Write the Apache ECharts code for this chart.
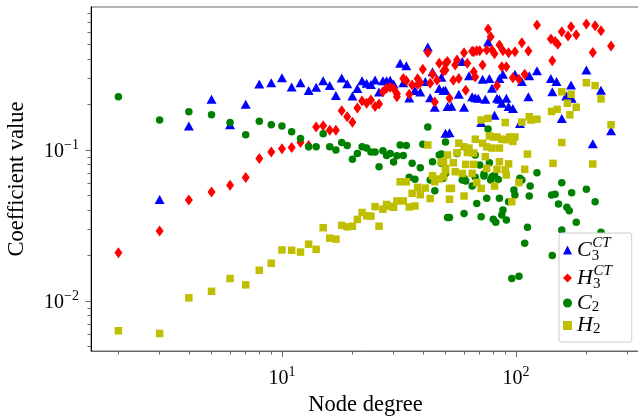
<!DOCTYPE html>
<html><head><meta charset="utf-8">
<script src="https://cdn.jsdelivr.net/npm/echarts@6/dist/echarts.min.js"></script>
<style>html,body{margin:0;padding:0;background:#fff}#c{width:638px;height:416px}</style>
</head><body><div id="c"></div>
<script>
// ---- data: [node degree, coefficient value] ----
const c3ct = [[3,0.047],[4,0.144],[5,0.217],[6,0.147],[7,0.201],[8,0.274],[9,0.279],[10,0.301],[11,0.261],[12,0.279],[13,0.248],[14,0.26],[15,0.288],[16,0.267],[17,0.23],[18,0.3],[19,0.275],[20,0.228],[21,0.255],[22,0.287],[23,0.277],[24,0.272],[25,0.291],[26,0.242],[27,0.287],[28,0.288],[29,0.29],[30,0.274],[32,0.375],[33,0.279],[34,0.362],[35,0.221],[37,0.248],[39,0.242],[41,0.284],[42,0.481],[43,0.222],[44,0.33],[45,0.192],[47,0.255],[48,0.303],[49,0.248],[50,0.129],[50,0.249],[51,0.194],[52,0.13],[53,0.195],[57,0.234],[59,0.385],[60,0.192],[63,0.31],[65,0.225],[67,0.222],[69,0.22],[71,0.152],[72,0.294],[74,0.217],[76,0.52],[77,0.298],[79,0.256],[81,0.17],[83,0.22],[85,0.217],[85,0.298],[87,0.204],[88,0.318],[91,0.22],[93,0.194],[97,0.188],[99,0.318],[104,0.15],[106,0.284],[113,0.225],[114,0.31],[123,0.335],[141,0.298],[143,0.243],[149,0.284],[157,0.162],[164,0.228],[172,0.269],[173,0.22],[200,0.339],[213,0.11],[231,0.249],[255,0.134]];
const h3ct = [[2,0.0209],[3,0.0291],[4,0.0467],[5,0.0527],[6,0.0584],[7,0.0659],[8,0.088],[9,0.097],[10,0.102],[11,0.104],[12,0.112],[13,0.107],[14,0.142],[15,0.145],[16,0.135],[17,0.135],[18,0.182],[19,0.166],[20,0.153],[21,0.19],[22,0.211],[23,0.204],[24,0.214],[25,0.194],[26,0.202],[27,0.243],[28,0.256],[29,0.26],[30,0.255],[31,0.236],[31,0.225],[33,0.298],[34,0.287],[35,0.234],[36,0.269],[38,0.296],[38,0.272],[39,0.279],[40,0.342],[42,0.443],[43,0.277],[44,0.318],[45,0.208],[46,0.29],[47,0.375],[49,0.334],[50,0.375],[50,0.339],[51,0.385],[52,0.22],[54,0.29],[55,0.365],[56,0.394],[57,0.298],[60,0.441],[61,0.249],[62,0.375],[65,0.45],[66,0.447],[66,0.33],[67,0.305],[68,0.455],[70,0.455],[72,0.365],[75,0.459],[76,0.632],[78,0.562],[79,0.46],[81,0.434],[83,0.266],[85,0.496],[87,0.356],[88,0.455],[91,0.356],[93,0.441],[97,0.301],[99,0.447],[103,0.294],[106,0.514],[109,0.318],[113,0.453],[123,0.673],[141,0.543],[143,0.39],[147,0.523],[151,0.501],[157,0.607],[167,0.569],[172,0.656],[181,0.58],[200,0.683],[213,0.443],[218,0.664],[231,0.617],[255,0.489]];
const c2 = [[2,0.225],[3,0.158],[4,0.179],[5,0.171],[6,0.152],[7,0.126],[8,0.155],[9,0.147],[10,0.144],[11,0.132],[12,0.119],[13,0.105],[14,0.105],[15,0.128],[16,0.105],[17,0.1],[18,0.112],[19,0.107],[20,0.0868],[21,0.095],[22,0.105],[23,0.103],[24,0.097],[25,0.097],[26,0.0776],[27,0.099],[28,0.092],[29,0.095],[30,0.0833],[31,0.0917],[32,0.108],[33,0.092],[34,0.107],[35,0.066],[36,0.0816],[37,0.064],[39,0.0764],[40,0.109],[42,0.142],[43,0.0633],[44,0.0837],[45,0.0537],[47,0.0927],[48,0.094],[48,0.0816],[49,0.065],[50,0.113],[50,0.07],[51,0.0357],[52,0.0357],[56,0.095],[59,0.0633],[60,0.065],[60,0.038],[61,0.0623],[65,0.0577],[67,0.0927],[67,0.066],[68,0.0443],[70,0.0796],[71,0.0361],[73,0.0693],[73,0.0673],[75,0.048],[76,0.138],[77,0.0824],[78,0.0633],[79,0.0666],[80,0.0348],[81,0.068],[82,0.0332],[84,0.0637],[85,0.048],[87,0.0371],[88,0.04],[91,0.0344],[93,0.0455],[96,0.0141],[98,0.0543],[99,0.0503],[103,0.0146],[104,0.065],[106,0.0633],[109,0.0241],[112,0.0308],[114,0.0496],[115,0.0577],[123,0.0708],[142,0.0503],[143,0.02],[147,0.051],[152,0.0439],[157,0.0295],[157,0.0608],[165,0.0418],[169,0.0396],[173,0.0521],[181,0.0332],[200,0.0549],[218,0.0455],[231,0.0285]];
const h2 = [[2,0.00636],[3,0.0061],[4,0.0105],[5,0.0116],[6,0.0141],[7,0.0128],[8,0.016],[9,0.0178],[10,0.0218],[11,0.0217],[12,0.0211],[13,0.0238],[14,0.022],[15,0.0306],[16,0.0261],[17,0.0257],[18,0.0317],[19,0.031],[20,0.0313],[21,0.0347],[22,0.0386],[23,0.0367],[24,0.0365],[25,0.0422],[26,0.0313],[27,0.0406],[28,0.0436],[29,0.0424],[30,0.0418],[31,0.046],[32,0.0616],[33,0.046],[34,0.0616],[35,0.042],[36,0.0517],[37,0.0426],[38,0.0566],[39,0.0506],[41,0.056],[42,0.108],[43,0.0477],[44,0.0676],[45,0.0616],[47,0.0643],[48,0.0833],[49,0.0665],[49,0.0837],[50,0.0738],[50,0.0756],[51,0.0927],[52,0.0557],[52,0.0472],[53,0.0557],[54,0.0824],[55,0.0718],[56,0.096],[57,0.111],[59,0.07],[60,0.0496],[60,0.105],[61,0.0803],[62,0.0963],[63,0.103],[65,0.07],[66,0.0955],[66,0.0803],[67,0.118],[68,0.061],[71,0.0557],[71,0.158],[72,0.111],[74,0.0903],[75,0.105],[75,0.0756],[76,0.162],[77,0.124],[79,0.103],[80,0.122],[81,0.0577],[83,0.122],[83,0.0745],[85,0.103],[85,0.0837],[87,0.118],[90,0.152],[90,0.0738],[91,0.117],[91,0.0683],[93,0.081],[94,0.122],[96,0.0455],[97,0.114],[99,0.122],[103,0.0608],[106,0.153],[109,0.0745],[112,0.094],[114,0.166],[116,0.158],[123,0.16],[142,0.18],[144,0.0816],[150,0.186],[157,0.243],[157,0.112],[166,0.204],[170,0.171],[172,0.234],[181,0.192],[200,0.279],[213,0.0808],[218,0.267],[231,0.218],[255,0.147]];

// ---- axes ----
const xRange = [1.527, 339];
const yRange = [0.00467, 0.885];
const xMajor = [10, 100];
const xMinor = [2,3,4,5,6,7,8,9,20,30,40,50,60,70,80,90,200,300];
const yMajor = [0.01, 0.1];
const yMinor = [0.005,0.006,0.007,0.008,0.009,0.02,0.03,0.04,0.05,0.06,0.07,0.08,0.09,0.2,0.3,0.4,0.5,0.6,0.7,0.8];
const seriesNames = ['C3CT','H3CT','C2','H2'];
const legendText = {C3CT:'{m|C}{lo|3}{hi|CT}', H3CT:'{m|H}{lo|3}{hi|CT}', C2:'{n|C}{lo2|2}', H2:'{n|H}{lo2|2}'};
const xTitle = 'Node degree';
const yTitle = 'Coefficient value';

const FONT = 'Liberation Serif';
function powLabel(v){
  const e = Math.round(Math.log10(v));
  return '{b|10}{s|' + (e < 0 ? '\u2212' + (-e) : String(e)) + '}';
}
const tickRich = {
  b:{fontFamily:FONT,fontSize:20,color:'#000',lineHeight:24,verticalAlign:'bottom'},
  s:{fontFamily:FONT,fontSize:14,color:'#000',lineHeight:14,verticalAlign:'top'}
};
const chart = echarts.init(document.getElementById('c'), null, {renderer:'canvas'});
const base = {type:'log', logBase:10, splitLine:{show:false}};
chart.setOption({
  animation:false,
  backgroundColor:'#fff',
  grid:{left:91, top:7, right:-2, bottom:65, show:true, borderColor:'#666', borderWidth:1,
        backgroundColor:'transparent', containLabel:false, outerBoundsMode:'none'},
  xAxis:[
    Object.assign({}, base, {min:xRange[0], max:xRange[1], position:'bottom',
      axisLine:{show:true, lineStyle:{color:'#666', width:1}},
      axisTick:{show:true, customValues:xMajor, length:6, lineStyle:{color:'#666'}},
      axisLabel:{customValues:xMajor, formatter:powLabel, rich:tickRich, margin:14},
      name:xTitle, nameLocation:'middle', nameGap:43,
      nameTextStyle:{fontFamily:FONT, fontSize:22.5, color:'#000'}}),
    Object.assign({}, base, {min:xRange[0], max:xRange[1], position:'bottom', offset:0,
      axisLine:{show:false},
      axisTick:{show:true, customValues:xMinor, length:3.5, lineStyle:{color:'#666'}},
      axisLabel:{show:false}})
  ],
  yAxis:[
    Object.assign({}, base, {min:yRange[0], max:yRange[1], position:'left',
      axisLine:{show:true, lineStyle:{color:'#000', width:1}},
      axisTick:{show:true, customValues:yMajor, length:5.5, lineStyle:{color:'#666'}},
      axisLabel:{customValues:yMajor, formatter:powLabel, rich:tickRich, margin:12},
      name:yTitle, nameLocation:'middle', nameGap:62,
      nameTextStyle:{fontFamily:FONT, fontSize:22.5, color:'#000'}}),
    Object.assign({}, base, {min:yRange[0], max:yRange[1], position:'left', offset:0,
      axisLine:{show:false},
      axisTick:{show:true, customValues:yMinor, length:3.5, lineStyle:{color:'#666'}},
      axisLabel:{show:false}})
  ],
  legend:{
    orient:'vertical', left:559, top:233, itemGap:0, itemWidth:9, itemHeight:9,
    padding:[3,20,5,4], backgroundColor:'#fff', borderColor:'#ccc', borderWidth:1, borderRadius:2,
    data:seriesNames,
    formatter:function(n){ return legendText[n]; },
    textStyle:{fontFamily:FONT, color:'#000', rich:{
      m:{fontFamily:FONT,fontStyle:'italic',fontSize:22,lineHeight:28,verticalAlign:'middle',color:'#000'},
      n:{fontFamily:FONT,fontStyle:'italic',fontSize:22,lineHeight:23,verticalAlign:'middle',color:'#000'},
      lo:{fontFamily:FONT,fontSize:15,lineHeight:15,verticalAlign:'bottom',width:0.5,color:'#000'},
      hi:{fontFamily:FONT,fontStyle:'italic',fontSize:15,lineHeight:15,verticalAlign:'top',color:'#000'},
      lo2:{fontFamily:FONT,fontSize:15,lineHeight:11,verticalAlign:'bottom',color:'#000'}
    }}
  },
  series:[
    {name:'C3CT', type:'scatter', data:c3ct, symbol:'triangle', symbolSize:[10,9], itemStyle:{color:'#0000ff', opacity:1}},
    {name:'H3CT', type:'scatter', data:h3ct, symbol:'diamond', symbolSize:[8,11], itemStyle:{color:'#ff0000', opacity:1}},
    {name:'C2', type:'scatter', data:c2, symbol:'circle', symbolSize:7.5, itemStyle:{color:'#008000', opacity:1}},
    {name:'H2', type:'scatter', data:h2, symbol:'rect', symbolSize:7.5, itemStyle:{color:'#bfbf00', opacity:1}}
  ]
});
</script></body></html>
